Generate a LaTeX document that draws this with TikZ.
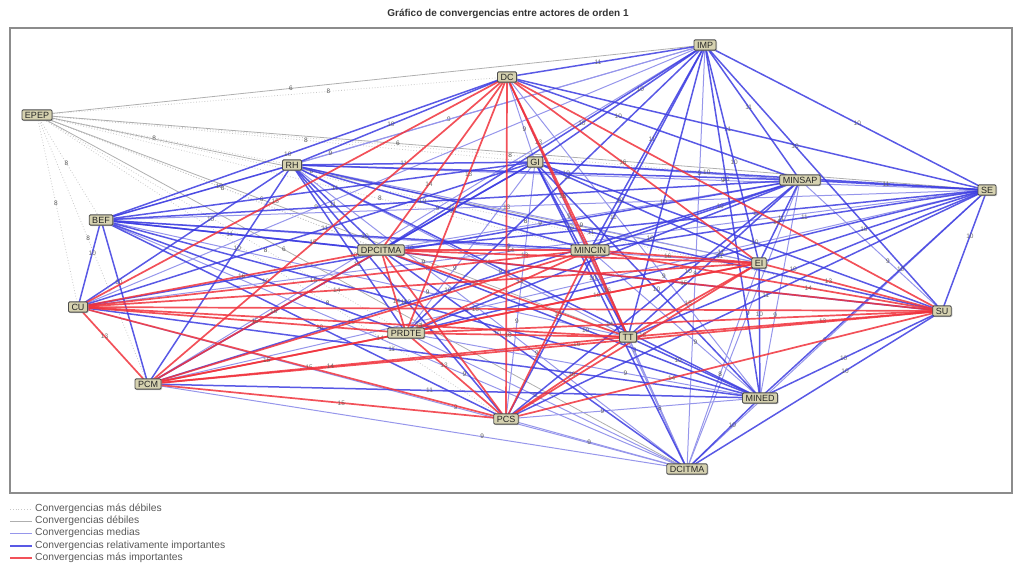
\documentclass[tikz,border=0pt]{standalone}
\usepackage{fontspec}
\setmainfont{Liberation Sans}
\usetikzlibrary{shadows}
\definecolor{nodefill}{RGB}{214,210,176}
\definecolor{cred}{RGB}{240,50,60}
\definecolor{cblue}{RGB}{60,60,225}
\definecolor{cmed}{RGB}{150,150,235}
\definecolor{cweak}{RGB}{175,175,175}
\definecolor{cweakest}{RGB}{200,200,200}
\pgfdeclarelayer{edges}
\pgfsetlayers{edges,main}
\tikzset{
 actor/.style={draw=black!70, line width=0.9pt, fill=nodefill, rounded corners=1.2pt, inner xsep=3pt, inner ysep=2pt,
   font=\fontsize{9}{10}\selectfont, text=black!85,
   drop shadow={shadow xshift=1pt,shadow yshift=-1pt,fill=black!40,opacity=0.6}},
 c0/.style={cweakest, line width=0.8, dotted},
 c1/.style={cweak, line width=0.8},
 c2/.style={cmed, line width=1.0},
 c3/.style={cblue, line width=1.5, opacity=0.85},
 c4/.style={cred, line width=1.7, opacity=0.85},
 elab/.style={font=\fontsize{6.5}{7}\selectfont, text=black!65, inner sep=0.5pt},
 legtext/.style={anchor=west, font=\fontsize{10.3}{11}\selectfont, text=black!65, inner sep=0pt},
}
\newcommand\setcat[3]{%
 \def\ecat{3}%
 \ifnum#3=1 \def\ecat{2}\fi
 \if#1R\if#2R\def\ecat{4}\fi\fi
 \if#1M\ifnum#3=0 \def\ecat{3}\else\def\ecat{2}\fi\fi
 \if#2M\ifnum#3=0 \def\ecat{3}\else\def\ecat{2}\fi\fi
 \if#1W\ifnum#3=0 \def\ecat{1}\else\def\ecat{0}\fi\fi
 \if#2W\ifnum#3=0 \def\ecat{1}\else\def\ecat{0}\fi\fi
}
\newcommand\nodelist{EP/W,DC/R,IM/B,RH/B,GI/B,MS/B,SE/B,BE/B,DP/R,MC/R,EI/R,CU/R,SU/R,PR/R,TT/R,PM/R,MD/B,PS/R,DT/M}
\begin{document}
\begin{tikzpicture}[x=1pt,y=-1pt]
\useasboundingbox (0,0) rectangle (1015,575);
\node[font=\bfseries\fontsize{10}{11}\selectfont, text=black!80] (title) at (508,14) {Gráfico de convergencias entre actores de orden 1};
\draw[black!45, line width=1.2] (10,28) rectangle (1012,493);
% actors
\foreach \n/\px/\py/\t in {EP/37/115/EPEP, DC/507/77/DC, IM/705/45/IMP, RH/292/165/RH, GI/535/162/GI,
  MS/800/180/MINSAP, SE/987/190/SE, BE/101/220/BEF, DP/381/250/DPCITMA, MC/590/250/MINCIN,
  EI/759/263/EI, CU/78/307/CU, SU/942/311/SU, PR/406/333/PRDTE, TT/628/337/TT, PM/148/384/PCM,
  MD/760/398/MINED, PS/506/419/PCS, DT/687/469/DCITMA}
  \node[actor] (\n) at (\px,\py) {\t};
% convergences
\begin{pgfonlayer}{edges}
\foreach \p in {0,...,4}{
 \foreach \a/\ga [count=\i] in \nodelist {
  \foreach \b/\gb [count=\j] in \nodelist {
   \ifnum\j>\i
     \pgfmathtruncatemacro\k{mod(\i*7+\j*3,4)}
     \setcat{\ga}{\gb}{\k}
     \ifnum\ecat=\p
       \pgfmathtruncatemacro\lab{\ecat==4 ? 13+\k : (\ecat==3 ? 10+mod(\k,2) : (\ecat==2 ? 8+mod(\k,2) : (\ecat==1 ? 6 : 8)))}
       \pgfmathsetmacro\lpos{0.38+0.08*mod(\i+\j,4)}
       \draw[c\ecat] (\a.center) -- node[elab, pos=\lpos]{\lab} (\b.center);
     \fi
   \fi
  }
 }
}
\end{pgfonlayer}
% legend
\draw[c0] (10,509) -- (32,509);
\node[legtext] (l0) at (35,509) {Convergencias más débiles};
\draw[c1] (10,521) -- (32,521);
\node[legtext] (l1) at (35,521) {Convergencias débiles};
\draw[c2] (10,533) -- (32,533);
\node[legtext] (l2) at (35,533) {Convergencias medias};
\draw[c3] (10,546) -- (32,546);
\node[legtext] (l3) at (35,546) {Convergencias relativamente importantes};
\draw[c4] (10,558) -- (32,558);
\node[legtext] (l4) at (35,558) {Convergencias más importantes};
\end{tikzpicture}
\end{document}
